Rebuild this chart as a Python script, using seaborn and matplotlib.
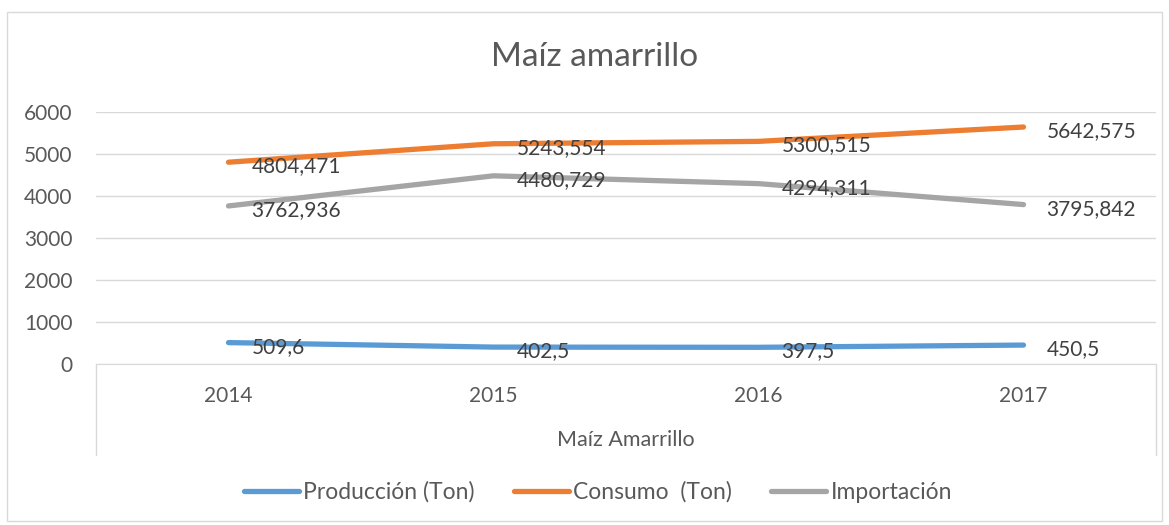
import pandas as pd
import matplotlib.pyplot as plt
import seaborn as sns

# chart data
years = ["2014", "2015", "2016", "2017"]
produccion = [509.6, 402.5, 397.5, 450.5]
consumo = [4804.471, 5243.554, 5300.515, 5642.575]
importacion = [3762.936, 4480.729, 4294.311, 3795.842]
series_names = ["Producción (Ton)", "Consumo  (Ton)", "Importación"]
colors = ["#5B9BD5", "#ED7D31", "#A5A5A5"]

# long format table for seaborn
rows = []
for name, values in zip(series_names, [produccion, consumo, importacion]):
    for i, v in enumerate(values):
        rows.append({"pos": i, "year": years[i], "value": v, "serie": name})
df = pd.DataFrame(rows)

sns.set_style("white")
plt.rcParams["font.family"] = ["Lato", "DejaVu Sans"]
text_color = "#595959"

fig = plt.figure(figsize=(11.69, 5.25), dpi=100)
ax = fig.add_axes([96 / 1169, 1 - 364 / 525, (1156 - 96) / 1169, (364 - 112) / 525])

sns.lineplot(data=df, x="pos", y="value", hue="serie", palette=colors,
             hue_order=series_names, linewidth=3.8, ax=ax, legend=True,
             solid_capstyle="round")

# data labels to the right of each point
for name in series_names:
    sub = df[df["serie"] == name]
    for _, r in sub.iterrows():
        label = str(r["value"]).replace(".", ",")
        ax.annotate(label, (r["pos"], r["value"]), xytext=(16.5, -3),
                    textcoords="offset points", ha="left", va="center",
                    fontsize=15, color="#404040")

ax.set_xlim(-0.5, 3.5)
ax.set_ylim(0, 6000)
ax.set_yticks(range(0, 6001, 1000))
ax.set_xticks(range(len(years)))
ax.set_xticklabels(years)
ax.tick_params(axis="both", length=0, labelsize=15, colors=text_color)
ax.tick_params(axis="x", pad=16)
ax.tick_params(axis="y", pad=17)
ax.grid(axis="y", color="#D9D9D9", linewidth=1)
for side in ["top", "right", "left"]:
    ax.spines[side].set_visible(False)
ax.spines["bottom"].set_color("#D9D9D9")
ax.set_xlabel("Maíz Amarrillo", fontsize=15.5, color=text_color, labelpad=17)
ax.set_ylabel("")

# category box lines below the axis
for xv in [0, 1]:
    ax.plot([xv, xv], [0, -91 / 252], transform=ax.transAxes, color="#D9D9D9",
            linewidth=1, clip_on=False)

fig.text(595 / 1169, 1 - 57 / 525, "Maíz amarrillo", ha="center", va="center",
         fontsize=24, color=text_color)

handles, labels = ax.get_legend_handles_labels()
ax.legend(handles, labels, loc="center", bbox_to_anchor=(598 / 1169, 1 - 492 / 525),
          bbox_transform=fig.transFigure, ncol=3, frameon=False, fontsize=16.5,
          handlelength=2.4, handletextpad=0.2, columnspacing=1.7,
          labelcolor=text_color)

# outer chart border
fig.patches.append(plt.Rectangle((7 / 1169, 4 / 525), 1155 / 1169, 509 / 525,
                                 transform=fig.transFigure, fill=False,
                                 edgecolor="#D9D9D9", linewidth=1))

fig.savefig("out.png", dpi=100)
